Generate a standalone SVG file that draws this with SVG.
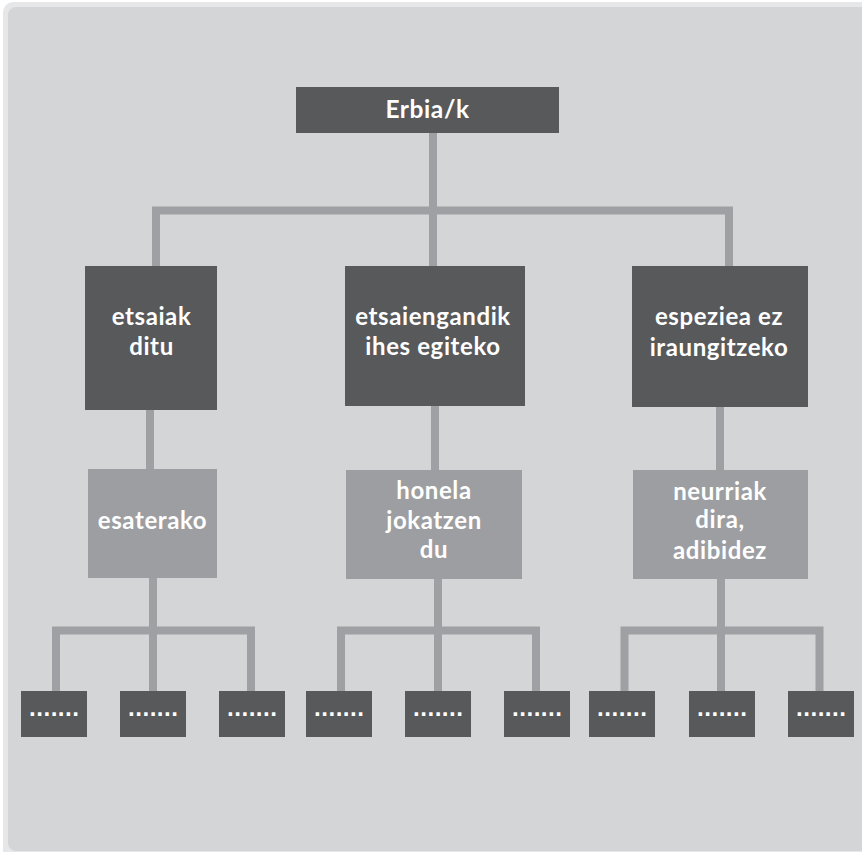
<svg xmlns="http://www.w3.org/2000/svg" width="862" height="852" viewBox="0 0 862 852">
  <style>
    .dark { fill: #58595b; }
    .mid { fill: #9d9ea1; }
    .lbl { font-family: Lato, "Open Sans", "Liberation Sans", sans-serif; font-weight: 700; font-size: 24px; letter-spacing: 0.6px; fill: #ffffff; text-anchor: middle; }
    .top { font-size: 24.5px; }
    .dots { font-family: "DejaVu Sans", sans-serif; font-weight: 700; font-size: 19px; fill: #ffffff; text-anchor: middle; }
    .conn { fill: none; stroke: #9fa0a3; stroke-width: 8; stroke-linejoin: miter; stroke-linecap: butt; }
  </style>

  <!-- panel -->
  <rect x="3" y="2" width="880" height="870" rx="10" fill="#e6e7e8"/>
  <rect x="8" y="7" width="870" height="844" rx="8" fill="#d4d5d7"/>

  <!-- connectors -->
  <g id="connectors" class="conn">
    <path d="M433 133 V266"/>
    <path d="M156 266 V210.5 H729 V266"/>
    <path d="M150 410 V469"/>
    <path d="M435 406 V470"/>
    <path d="M720 407 V470"/>
    <path d="M153 578 V691"/>
    <path d="M56 691 V630.5 H251 V691"/>
    <path d="M438 579 V691"/>
    <path d="M341 691 V630.5 H536 V691"/>
    <path d="M721 579 V691"/>
    <path d="M624.5 691 V630.5 H819.5 V691"/>
  </g>

  <!-- root -->
  <g id="root">
    <rect class="dark" x="296" y="87" width="263" height="46"/>
    <text class="lbl top" x="427.5" y="117.5">Erbia/k</text>
  </g>

  <!-- second level -->
  <g id="etsaiak">
    <rect class="dark" x="85" y="266" width="132" height="144"/>
    <text class="lbl" x="151.5" y="325">etsaiak</text>
    <text class="lbl" x="151.5" y="355">ditu</text>
  </g>
  <g id="ihes">
    <rect class="dark" x="345" y="266" width="180" height="140"/>
    <text class="lbl" x="433" y="325">etsaiengandik</text>
    <text class="lbl" x="433" y="355">ihes egiteko</text>
  </g>
  <g id="espeziea">
    <rect class="dark" x="632" y="266" width="176" height="141"/>
    <text class="lbl" x="719" y="325">espeziea ez</text>
    <text class="lbl" x="719" y="356">iraungitzeko</text>
  </g>

  <!-- third level -->
  <g id="esaterako">
    <rect class="mid" x="88" y="469" width="129" height="109"/>
    <text class="lbl" x="152.5" y="529">esaterako</text>
  </g>
  <g id="honela">
    <rect class="mid" x="346" y="470" width="176" height="109"/>
    <text class="lbl" x="434" y="499">honela</text>
    <text class="lbl" x="434" y="528.5">jokatzen</text>
    <text class="lbl" x="434" y="558">du</text>
  </g>
  <g id="neurriak">
    <rect class="mid" x="633" y="470" width="175" height="109"/>
    <text class="lbl" x="720" y="500">neurriak</text>
    <text class="lbl" x="720" y="528">dira,</text>
    <text class="lbl" x="720" y="559">adibidez</text>
  </g>

  <!-- leaves -->
  <g id="leaf1"><rect class="dark" x="21" y="691" width="66" height="46"/><text class="dots" x="54" y="716">.......</text></g>
  <g id="leaf2"><rect class="dark" x="120" y="691" width="66" height="46"/><text class="dots" x="153" y="716">.......</text></g>
  <g id="leaf3"><rect class="dark" x="219" y="691" width="66" height="46"/><text class="dots" x="252" y="716">.......</text></g>
  <g id="leaf4"><rect class="dark" x="306" y="691" width="66" height="46"/><text class="dots" x="339" y="716">.......</text></g>
  <g id="leaf5"><rect class="dark" x="405" y="691" width="66" height="46"/><text class="dots" x="438" y="716">.......</text></g>
  <g id="leaf6"><rect class="dark" x="504" y="691" width="66" height="46"/><text class="dots" x="537" y="716">.......</text></g>
  <g id="leaf7"><rect class="dark" x="589" y="691" width="66" height="46"/><text class="dots" x="622" y="716">.......</text></g>
  <g id="leaf8"><rect class="dark" x="689" y="691" width="66" height="46"/><text class="dots" x="722" y="716">.......</text></g>
  <g id="leaf9"><rect class="dark" x="788" y="691" width="66" height="46"/><text class="dots" x="821" y="716">.......</text></g>
</svg>
